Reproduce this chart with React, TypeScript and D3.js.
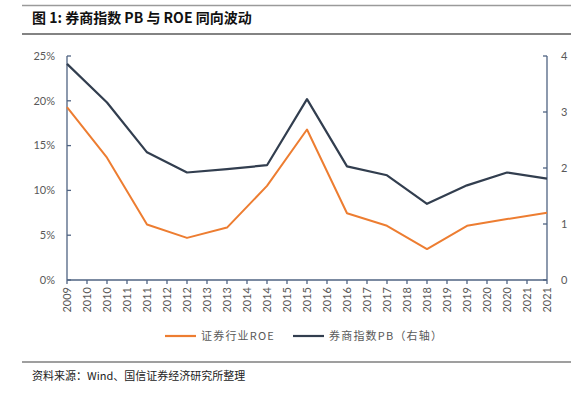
import { useEffect, useRef } from "react"
import * as d3 from "d3"

// yearly data, drawn on every 2nd half-year tick
const years = [2009, 2010, 2011, 2012, 2013, 2014, 2015, 2016, 2017, 2018, 2019, 2020, 2021]
const roe = [19.3, 13.65, 6.2, 4.7, 5.85, 10.5, 16.8, 7.45, 6.05, 3.45, 6.05, 6.8, 7.5]
const pb = [3.86, 3.17, 2.28, 1.92, 1.98, 2.05, 3.23, 2.03, 1.87, 1.36, 1.69, 1.92, 1.81]
const tickLabels = [
  "2009", "2010", "2010", "2011", "2011", "2012", "2012", "2013", "2013", "2014", "2014", "2015", "2015",
  "2016", "2016", "2017", "2017", "2018", "2018", "2019", "2019", "2020", "2020", "2021", "2021",
]
const leftTicks = [0, 5, 10, 15, 20, 25]
const rightTicks = [0, 1, 2, 3, 4]

const W = 587
const H = 399
const ORANGE = "#ED7D31"
const NAVY = "#323E4F"
const AXIS = "#4F6382"
const LABEL = "#595959"

export default function App() {
  const svgRef = useRef<SVGSVGElement>(null)

  useEffect(() => {
    if (!svgRef.current) return
    const svg = d3.select(svgRef.current)
    svg.selectAll("*").remove()

    const margin = { left: 67, right: 40, top: 56, bottom: 119 }
    const x0 = margin.left
    const x1 = W - margin.right
    const y0 = H - margin.bottom
    const yTop = margin.top

    const x = d3.scaleLinear().domain([0, tickLabels.length - 1]).range([x0, x1])
    const yL = d3.scaleLinear().domain([0, 25]).range([y0, yTop])
    const yR = d3.scaleLinear().domain([0, 4]).range([y0, yTop])

    // header + footer rules
    svg.append("line").attr("x1", 22).attr("x2", 571).attr("y1", 5.5).attr("y2", 5.5)
      .attr("stroke", "#9a9a9a").attr("stroke-width", 1.6)
    svg.append("line").attr("x1", 22).attr("x2", 571).attr("y1", 34).attr("y2", 34)
      .attr("stroke", "#5a5a5a").attr("stroke-width", 1.4)
    svg.append("line").attr("x1", 22).attr("x2", 571).attr("y1", 362).attr("y2", 362)
      .attr("stroke", "#7f7f7f").attr("stroke-width", 1.4)

    svg.append("text")
      .attr("x", 32).attr("y", 23)
      .attr("font-family", "'Noto Sans CJK SC', sans-serif")
      .attr("font-size", 14).attr("font-weight", "bold").attr("fill", "#111")
      .text("图 1: 券商指数 PB 与 ROE 同向波动")

    svg.append("text")
      .attr("x", 32).attr("y", 380)
      .attr("font-family", "'Noto Sans CJK SC', sans-serif")
      .attr("font-size", 11).attr("fill", "#222")
      .text("资料来源：Wind、国信证券经济研究所整理")

    // left axis
    const gl = svg.append("g")
    gl.append("line").attr("x1", x0).attr("x2", x0).attr("y1", yTop).attr("y2", y0)
      .attr("stroke", AXIS).attr("stroke-width", 1.3)
    leftTicks.forEach((t) => {
      gl.append("line").attr("x1", x0).attr("x2", x0 + 4).attr("y1", yL(t)).attr("y2", yL(t))
        .attr("stroke", AXIS).attr("stroke-width", 1.3)
      gl.append("text").attr("x", x0 - 12).attr("y", yL(t)).attr("dy", "0.35em")
        .attr("text-anchor", "end").attr("font-family", "Lato, sans-serif").attr("font-size", 11)
        .attr("fill", LABEL).text(`${t}%`)
    })

    // right axis
    const gr = svg.append("g")
    gr.append("line").attr("x1", x1).attr("x2", x1).attr("y1", yTop).attr("y2", y0)
      .attr("stroke", AXIS).attr("stroke-width", 1.3)
    rightTicks.forEach((t) => {
      gr.append("line").attr("x1", x1 - 4).attr("x2", x1).attr("y1", yR(t)).attr("y2", yR(t))
        .attr("stroke", AXIS).attr("stroke-width", 1.3)
      gr.append("text").attr("x", x1 + 14).attr("y", yR(t)).attr("dy", "0.35em")
        .attr("text-anchor", "start").attr("font-family", "Lato, sans-serif").attr("font-size", 11)
        .attr("fill", LABEL).text(`${t}`)
    })

    // bottom axis
    const gb = svg.append("g")
    gb.append("line").attr("x1", x0).attr("x2", x1).attr("y1", y0).attr("y2", y0)
      .attr("stroke", AXIS).attr("stroke-width", 1.3)
    tickLabels.forEach((lab, i) => {
      gb.append("line").attr("x1", x(i)).attr("x2", x(i)).attr("y1", y0).attr("y2", y0 + 4)
        .attr("stroke", AXIS).attr("stroke-width", 1.3)
      gb.append("text")
        .attr("transform", `translate(${x(i)},${y0 + 7}) rotate(-90)`)
        .attr("dy", "0.35em").attr("text-anchor", "end")
        .attr("font-family", "Lato, sans-serif").attr("font-size", 11)
        .attr("fill", LABEL).text(lab)
    })

    // series
    const roeLine = d3.line<number>().x((_, i) => x(i * 2)).y((d) => yL(d))
    const pbLine = d3.line<number>().x((_, i) => x(i * 2)).y((d) => yR(d))

    svg.append("path").datum(roe).attr("d", roeLine).attr("fill", "none")
      .attr("stroke", ORANGE).attr("stroke-width", 2).attr("stroke-linejoin", "round")
    svg.append("path").datum(pb).attr("d", pbLine).attr("fill", "none")
      .attr("stroke", NAVY).attr("stroke-width", 2.2).attr("stroke-linejoin", "round")

    // legend
    const legend = [
      { label: "证券行业ROE", color: ORANGE, x: 165 },
      { label: "券商指数PB（右轴）", color: NAVY, x: 293 },
    ]
    legend.forEach((l) => {
      svg.append("line").attr("x1", l.x).attr("x2", l.x + 31).attr("y1", 336).attr("y2", 336)
        .attr("stroke", l.color).attr("stroke-width", 2.2)
      svg.append("text").attr("x", l.x + 36).attr("y", 336).attr("dy", "0.36em")
        .attr("font-family", "'Noto Sans CJK SC', sans-serif").attr("font-size", 11)
        .attr("letter-spacing", 1.2).attr("fill", LABEL).text(l.label)
    })
    void years
  }, [])

  return (
    <svg
      ref={svgRef}
      width={W}
      height={H}
      style={{ position: "absolute", left: 0, top: 0, background: "#fff" }}
    />
  )
}
